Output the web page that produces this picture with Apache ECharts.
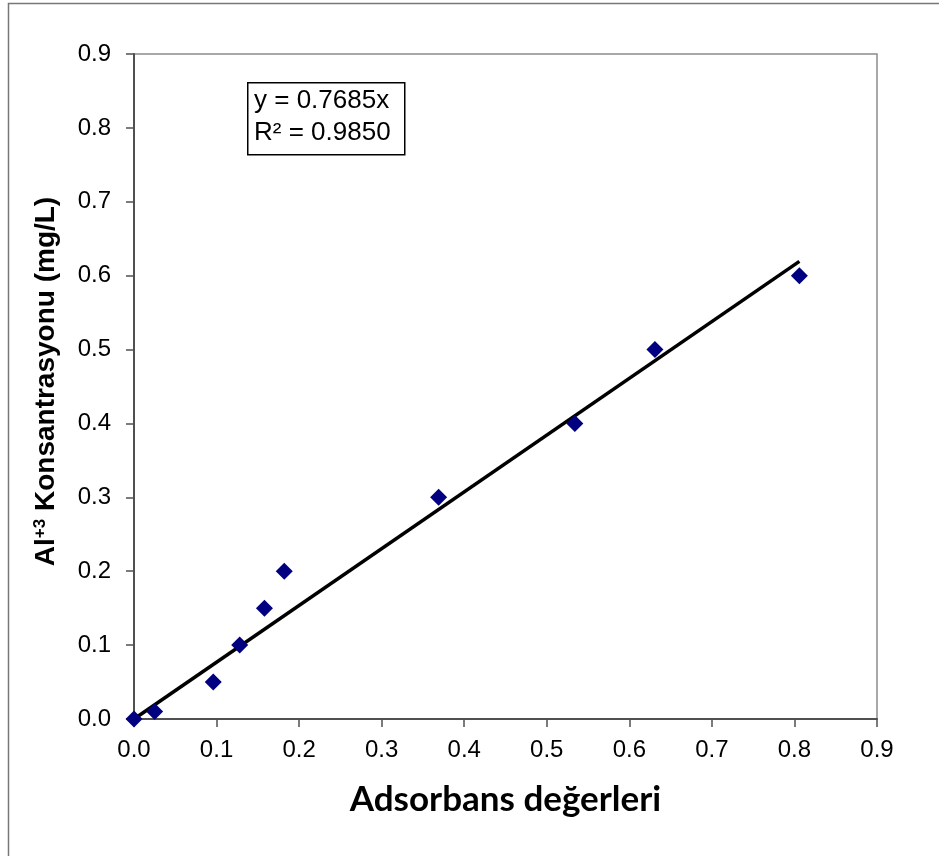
<!DOCTYPE html>
<html>
<head>
<meta charset="utf-8">
<script src="https://cdn.jsdelivr.net/npm/echarts@6/dist/echarts.min.js"></script>
<style>
html,body{margin:0;padding:0;background:#fff;}
#c{width:939px;height:856px;}
</style>
</head>
<body>
<div id="c"></div>
<script>
var xValues = [0, 0.025, 0.096, 0.128, 0.158, 0.182, 0.369, 0.534, 0.631, 0.806];
var yValues = [0, 0.01, 0.05, 0.10, 0.15, 0.20, 0.30, 0.40, 0.50, 0.60];
var slope = 0.7685;
var r2 = 0.9850;
var xTicks = ['0.0','0.1','0.2','0.3','0.4','0.5','0.6','0.7','0.8','0.9'];
var yTicks = ['0.0','0.1','0.2','0.3','0.4','0.5','0.6','0.7','0.8','0.9'];

var points = xValues.map(function(x, i){ return [x, yValues[i]]; });
var xMax = Math.max.apply(null, xValues);
var trend = [[0, 0], [xMax, slope * xMax]];

var chart = echarts.init(document.getElementById('c'), null, {renderer:'canvas'});
chart.setOption({
  animation: false,
  backgroundColor: '#fff',
  grid: {left: 134, top: 54, right: 62, bottom: 137, show: true, borderColor: '#8c8c8c', borderWidth: 1.5, backgroundColor: 'transparent'},
  xAxis: {
    type: 'value', min: 0, max: 0.9, interval: 0.1,
    name: 'Adsorbans değerleri', nameLocation: 'middle', nameGap: 63,
    nameTextStyle: {fontFamily: 'Lato', fontWeight: 'bold', fontSize: 35, color: '#000'},
    axisLine: {show: true, lineStyle: {color: '#505050', width: 2}},
    axisTick: {show: true, inside: false, length: 8, lineStyle: {color: '#505050', width: 1.5}},
    axisLabel: {fontFamily: 'Liberation Sans', fontSize: 24, color: '#000', margin: 19,
      formatter: function(v){ return xTicks[Math.round(v*10)]; }},
    splitLine: {show: false}
  },
  yAxis: {
    type: 'value', min: 0, max: 0.9, interval: 0.1,
    name: 'Al{sup|+3} Konsantrasyonu (mg/L)', nameLocation: 'middle', nameGap: 74, nameRotate: 90,
    nameTextStyle: {fontFamily: 'Liberation Sans', fontWeight: 'bold', fontSize: 28, color: '#000', padding: [0, 0, 0, 10],
      rich: {sup: {fontFamily: 'Liberation Sans', fontWeight: 'bold', fontSize: 17, verticalAlign: 'top', padding: [0,0,11,0], color:'#000'}}},
    axisLine: {show: true, lineStyle: {color: '#505050', width: 2}},
    axisTick: {show: true, inside: false, length: 8, lineStyle: {color: '#505050', width: 1.5}},
    axisLabel: {fontFamily: 'Liberation Sans', fontSize: 24, color: '#000', margin: 23,
      formatter: function(v){ return yTicks[Math.round(v*10)]; }},
    splitLine: {show: false}
  },
  series: [
    {
      type: 'line', data: trend, symbol: 'none', z: 2,
      lineStyle: {color: '#000', width: 3.5}
    },
    {
      type: 'scatter', data: points, symbol: 'diamond', symbolSize: 17, z: 3,
      itemStyle: {color: '#000080', opacity: 1}
    }
  ],
  graphic: [
    {type: 'rect', left: 6, top: 1, shape: {width: 940, height: 860}, style: {fill: 'none', stroke: '#777', lineWidth: 1.5}, silent: true},
    {type: 'rect', left: 247, top: 82, shape: {width: 157, height: 72}, style: {fill: '#fff', stroke: '#000', lineWidth: 1.5}, z: 10},
    {type: 'text', left: 254, top: 85, z: 11, style: {text: 'y = ' + slope.toFixed(4) + 'x\nR² = ' + r2.toFixed(4), fontFamily: 'Liberation Sans', fontSize: 26, lineHeight: 32, fill: '#000'}}
  ]
});
</script>
</body>
</html>
